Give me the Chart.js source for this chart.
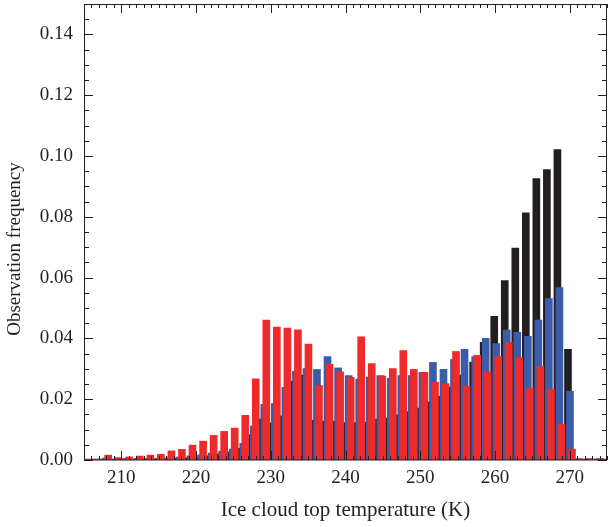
<!DOCTYPE html>
<html>
<head>
<meta charset="utf-8">
<script src="https://cdn.jsdelivr.net/npm/chart.js@4/dist/chart.umd.min.js"></script>
<style>
  html, body { margin: 0; padding: 0; background: #fff; }
  #wrap { width: 608px; height: 527px; }
</style>
</head>
<body>
<div id="wrap"><canvas id="chartIceTemp"></canvas></div>
<script>
// bin centres (K) of the histogram
const binTemps = [
  205.42, 206.83, 208.24, 209.65, 211.06, 212.47, 213.88, 215.29, 216.70, 218.11,
  219.52, 220.94, 222.35, 223.76, 225.17, 226.58, 227.99, 229.40, 230.81, 232.22,
  233.63, 235.04, 236.45, 237.86, 239.28, 240.69, 242.10, 243.51, 244.92, 246.33,
  247.74, 249.15, 250.56, 251.97, 253.38, 254.79, 256.20, 257.62, 259.03, 260.44,
  261.85, 263.26, 264.67, 266.08, 267.49, 268.90, 270.31, 271.72, 273.13, 274.54
];

const blackFreq = [
  0.0002, 0.0002, 0.0003, 0.0003, 0.0003, 0.0003, 0.0004, 0.0004, 0.0005, 0.0006,
  0.0008, 0.0010, 0.0014, 0.0020, 0.0027, 0.0038, 0.0083, 0.0135, 0.0122, 0.0145,
  0.0260, 0.0279, 0.0131, 0.0128, 0.0128, 0.0123, 0.0123, 0.0125, 0.0134, 0.0138,
  0.0148, 0.0159, 0.0171, 0.0191, 0.0210, 0.0240, 0.0279, 0.0322, 0.0387, 0.0473,
  0.0590, 0.0697, 0.0813, 0.0926, 0.0955, 0.1021, 0.0364, 0.0004, 0.0004, 0.0004
];

const blueFreq = [
  0.0002, 0.0003, 0.0007, 0.0003, 0.0006, 0.0005, 0.0005, 0.0006, 0.0009, 0.0010,
  0.0014, 0.0017, 0.0023, 0.0029, 0.0036, 0.0055, 0.0112, 0.0183, 0.0186, 0.0239,
  0.0292, 0.0301, 0.0298, 0.0340, 0.0303, 0.0278, 0.0266, 0.0273, 0.0278, 0.0269,
  0.0278, 0.0278, 0.0288, 0.0321, 0.0298, 0.0331, 0.0364, 0.0340, 0.0400, 0.0383,
  0.0427, 0.0420, 0.0407, 0.0460, 0.0531, 0.0567, 0.0226, 0.0003, 0.0003, 0.0003
];

const redFreq = [
  0.0003, 0.0003, 0.0016, 0.0008, 0.0010, 0.0013, 0.0016, 0.0019, 0.0030, 0.0035,
  0.0049, 0.0062, 0.0081, 0.0094, 0.0105, 0.0147, 0.0267, 0.0460, 0.0437, 0.0434,
  0.0428, 0.0381, 0.0245, 0.0315, 0.0290, 0.0272, 0.0405, 0.0317, 0.0276, 0.0301,
  0.0360, 0.0298, 0.0288, 0.0256, 0.0251, 0.0357, 0.0243, 0.0344, 0.0290, 0.0340,
  0.0387, 0.0337, 0.0236, 0.0307, 0.0233, 0.0118, 0.0036, 0.0003, 0.0003, 0.0003
];

const xTickValues = [210, 220, 230, 240, 250, 260, 270];
const yTickValues = [0.00, 0.02, 0.04, 0.06, 0.08, 0.10, 0.12, 0.14];

const ink = '#231f20';
const serif = "'Liberation Serif', 'DejaVu Serif', serif";

function toPoints(values, shift) {
  return values.map((v, i) => ({ x: binTemps[i] + shift, y: v }));
}

// box frame with inward ticks on all four sides, plus the y title
const frameTicks = {
  id: 'frameTicks',
  afterDraw(chart) {
    const { ctx, chartArea: a, scales: { x, y } } = chart;
    ctx.save();
    ctx.strokeStyle = ink;
    ctx.lineWidth = 1;
    ctx.beginPath();
    ctx.rect(a.left + 0.5, a.top + 0.5, a.right - a.left - 1, a.bottom - a.top - 0.5);
    for (let t = 205; t <= 275; t++) {
      const px = Math.round(x.getPixelForValue(t)) + 0.5;
      const len = xTickValues.includes(t) ? 9 : 4;
      ctx.moveTo(px, a.bottom); ctx.lineTo(px, a.bottom - len);
      ctx.moveTo(px, a.top); ctx.lineTo(px, a.top + len);
    }
    for (let k = 0; k <= 30; k++) {
      const py = Math.round(y.getPixelForValue(k * 0.005)) + 0.5;
      const len = k % 4 === 0 ? 9 : 5;
      ctx.moveTo(a.left, py); ctx.lineTo(a.left + len, py);
      ctx.moveTo(a.right, py); ctx.lineTo(a.right - len, py);
    }
    ctx.stroke();

    ctx.fillStyle = ink;
    ctx.font = '19px ' + serif;
    ctx.textAlign = 'center';
    ctx.textBaseline = 'middle';
    ctx.translate(15, 249);
    ctx.rotate(-Math.PI / 2);
    ctx.fillText('Observation frequency', 0, 0);
    ctx.restore();
  }
};

new Chart(document.getElementById('chartIceTemp'), {
  type: 'bar',
  data: {
    datasets: [{
      label: 'Series 1',
      data: toPoints(blackFreq, -0.535),
      backgroundColor: ink,
      order: 3
    }, {
      label: 'Series 2',
      data: toPoints(blueFreq, -0.267),
      backgroundColor: '#3b5ca8',
      order: 2
    }, {
      label: 'Series 3',
      data: toPoints(redFreq, 0),
      backgroundColor: '#ee2a2b',
      order: 1
    }]
  },
  options: {
    responsive: true,
    maintainAspectRatio: false,
    animation: false,
    layout: { padding: { top: 4, right: 1, left: 0, bottom: 0 } },
    datasets: { bar: { grouped: false, barThickness: 7 } },
    plugins: {
      legend: { display: false },
      tooltip: { enabled: false }
    },
    scales: {
      x: {
        type: 'linear',
        min: 205,
        max: 275,
        offset: false,
        grid: { display: false, drawTicks: false, offset: false },
        border: { display: false },
        afterBuildTicks: (s) => { s.ticks = xTickValues.map(v => ({ value: v })); },
        afterFit: (s) => { s.height = 67; s.paddingLeft = 0; s.paddingRight = 0; },
        ticks: {
          autoSkip: false,
          maxRotation: 0,
          padding: 7,
          color: ink,
          font: { family: serif, size: 19 },
          callback: (v) => String(v)
        },
        title: {
          display: true,
          text: 'Ice cloud top temperature (K)',
          color: ink,
          font: { family: serif, size: 21 },
          padding: { top: 0, bottom: 4 }
        }
      },
      y: {
        min: 0,
        max: 0.15,
        grid: { display: false, drawTicks: false },
        border: { display: false },
        afterBuildTicks: (s) => { s.ticks = yTickValues.map(v => ({ value: v })); },
        afterFit: (s) => { s.width = 84; s.paddingTop = 0; s.paddingBottom = 0; },
        ticks: {
          padding: 11,
          color: ink,
          font: { family: serif, size: 19 },
          callback: (v) => v.toFixed(2)
        }
      }
    }
  },
  plugins: [frameTicks]
});
</script>
</body>
</html>
